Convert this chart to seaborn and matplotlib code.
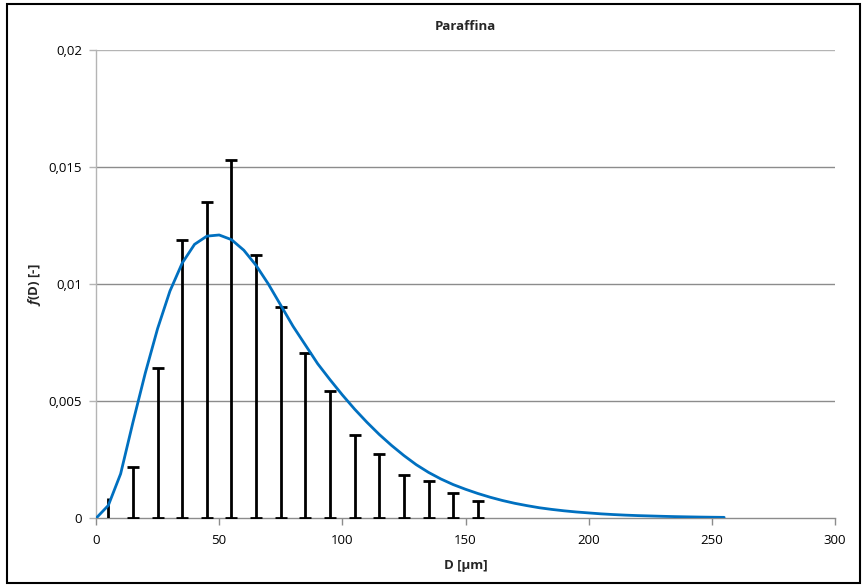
import matplotlib
matplotlib.use("Agg")
import matplotlib.pyplot as plt
from matplotlib.patches import Rectangle
import seaborn as sns
import pandas as pd

# Measured size-class frequencies (class centres in µm)
class_centres = [5, 15, 25, 35, 45, 55, 65, 75, 85, 95, 105, 115, 125, 135, 145, 155]
class_freq = [0.00085, 0.00217, 0.0064, 0.0119, 0.01352, 0.01531, 0.01124, 0.00904,
              0.00707, 0.00544, 0.00357, 0.00275, 0.00187, 0.0016, 0.0011, 0.00074]

# Fitted distribution curve
fit_d = [0, 5, 10, 15, 20, 25, 30, 35, 40, 45, 50, 55, 60, 65, 70, 75, 80, 85, 90, 95,
         100, 105, 110, 115, 120, 125, 130, 135, 140, 145, 150, 155, 160, 165, 170, 175,
         180, 185, 190, 195, 200, 205, 210, 215, 220, 225, 230, 235, 240, 245, 250, 255]
fit_f = [0.0, 0.00055, 0.0019, 0.0041, 0.0062, 0.0081, 0.0097, 0.0109, 0.0117, 0.01205,
         0.0121, 0.0119, 0.01145, 0.0108, 0.0100, 0.0091, 0.0082, 0.0074, 0.0066, 0.00592,
         0.00527, 0.00466, 0.0041, 0.00358, 0.00311, 0.00268, 0.00229, 0.00196, 0.00168,
         0.00144, 0.00124, 0.00106, 0.0009, 0.00076, 0.00064, 0.00054, 0.00045, 0.00038,
         0.00032, 0.00027, 0.00023, 0.00019, 0.00016, 0.000135, 0.000115, 0.0001,
         0.000085, 0.000072, 0.000062, 0.000053, 0.000046, 0.00004]

y_ticks = [0, 0.005, 0.01, 0.015, 0.02]
y_tick_labels = ["0", "0,005", "0,01", "0,015", "0,02"]
x_ticks = [0, 50, 100, 150, 200, 250, 300]
x_tick_labels = ["0", "50", "100", "150", "200", "250", "300"]

sns.set_theme(style="white")
plt.rcParams["font.family"] = ["Open Sans", "DejaVu Sans"]
plt.rcParams["mathtext.fontset"] = "custom"
plt.rcParams["mathtext.it"] = "Open Sans:italic:bold"
plt.rcParams["mathtext.rm"] = "Open Sans:bold"

W, H = 863, 586
fig = plt.figure(figsize=(W / 100, H / 100), dpi=100)
fig.patch.set_facecolor("white")
ax = fig.add_axes([96 / W, 1 - 518.3 / H, (835 - 96) / W, (518.3 - 50) / H])

# Grid
for yv in y_ticks[1:]:
    ax.axhline(yv, color="#8c8c8c" if yv < 0.02 else "#b4b4b4", lw=1.0, zorder=0)

# Stems with caps at both ends
ax.errorbar(class_centres[1:], class_freq[1:],
            yerr=[class_freq[1:], [0] * (len(class_freq) - 1)],
            fmt="none", ecolor="black", elinewidth=2.0, capsize=4.0, capthick=2.0, zorder=3)
ax.vlines(class_centres[0], 0, class_freq[0], color="black", lw=2.0, zorder=3)

# Fitted curve
curve = pd.DataFrame({"D": fit_d, "f": fit_f})
sns.lineplot(data=curve, x="D", y="f", ax=ax, color="#0070C0", lw=2.0, zorder=4)

ax.set_xlim(0, 300)
ax.set_ylim(0, 0.02)
ax.set_xticks(x_ticks)
ax.set_xticklabels(x_tick_labels)
ax.set_yticks(y_ticks)
ax.set_yticklabels(y_tick_labels)
ax.tick_params(axis="both", which="major", labelsize=9.5, colors="black",
               length=5, width=1, direction="out")
ax.tick_params(axis="x", color="#8c8c8c", pad=6, bottom=True)
ax.tick_params(axis="y", color="#b4b4b4", pad=5, left=True)

for side in ["top", "right"]:
    ax.spines[side].set_visible(False)
ax.spines["left"].set_color("#b4b4b4")
ax.spines["left"].set_linewidth(1.0)
ax.spines["bottom"].set_color("#8c8c8c")
ax.spines["bottom"].set_linewidth(1.0)

ax.set_xlabel("D [µm]", fontsize=9.5, fontweight="bold", labelpad=9)
ax.set_ylabel(r"$\it{f}$(D) [-]", fontsize=9.5, fontweight="bold", labelpad=4)

fig.text(465.5 / W, 1 - 26 / H, "Paraffina", ha="center", va="center",
         fontsize=9.5, fontweight="bold")

fig.patches.append(Rectangle((7 / W, 3 / H), (860 - 7) / W, (583 - 4) / H,
                             transform=fig.transFigure, fill=False,
                             edgecolor="black", lw=1.5))

fig.savefig("out.png", dpi=100, facecolor="white")
